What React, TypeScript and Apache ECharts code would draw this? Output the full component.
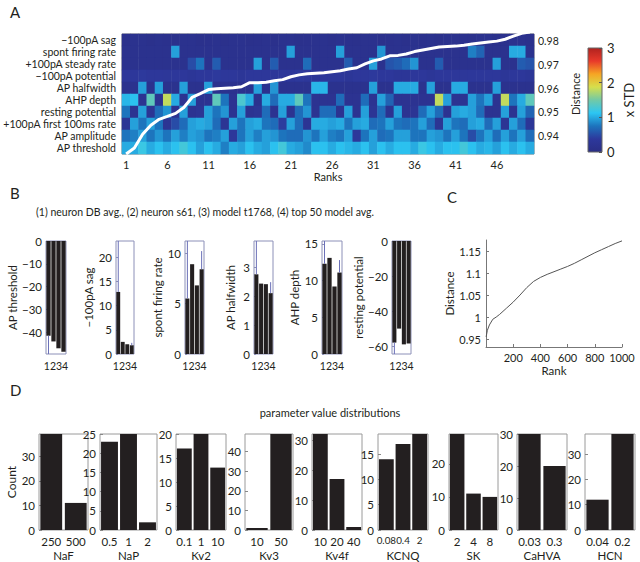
import React, { useEffect, useRef } from 'react';
import * as echarts from 'echarts';

const FONT = 'Lato, "Open Sans", sans-serif';
const TXT = '#231f20';
const BAR = '#231f20';
const ERR = '#6b70b8';

// ---------------- Panel A ----------------
const featureLabels = [
  '−100pA sag', 'spont firing rate', '+100pA steady rate', '−100pA potential', 'AP halfwidth',
  'AHP depth', 'resting potential', '+100pA first 100ms rate', 'AP amplitude', 'AP threshold',
];
const rankLabels = Array.from({ length: 50 }, (_, i) => String(i + 1));

const rowSag = [.12,.15,.14,.12,.15,.13,.12,.15,.14,.12, .13,.15,.12,.14,.15,.12,.13,.15,.12,.14, .15,.12,.13,.15,.14,.12,.15,.13,.12,.14, .15,.12,.13,.15,.12,.14,.13,.15,.12,.14, .15,.13,.12,.14,.15,.12,.13,.15,.14,.12];
const rowSpont = [.15,.15,.15,.15,.15,.15,.95,.15,.15,.15, .15,.15,.15,.15,.15,.15,.15,.15,.15,.15, .95,.15,.15,.15,.15,.15,.95,.15,.15,.15, .15,.9,.15,.15,.15,.15,.15,.15,.15,.15, .15,.15,.8,.65,.15,.15,.15,1.0,1.0,.15];
const rowSteady = [.15,.15,.15,.15,.15,.15,.15,.15,.5,.75, .15,.6,.15,.15,.15,.15,.95,.15,.6,.15, .15,.15,.7,.15,.15,.15,.15,.6,.15,.15, .95,.15,.55,.6,.7,.9,.15,.15,.6,.15, .15,.15,.15,.15,.15,.95,.15,.15,.6,.55];
const rowPotential = [.35,.35,.38,.35,.35,.32,.35,.35,.3,.35, .35,.38,.35,.35,.3,.35,.35,.35,.32,.35, .35,.38,.35,.3,.35,.35,.35,.3,.35,.35, .38,.35,.35,.3,.3,.35,.35,.3,.35,.35, .35,.32,.35,.35,.35,.35,.3,.35,.35,.3];
const rowHalfwidth = [.15,.15,.95,.15,.95,.15,.15,.95,.15,.15, .95,.15,.15,.15,.15,.15,.95,.15,.9,.15, .15,.15,.15,1.05,1.05,.15,.15,.15,.15,.15, .95,.15,.15,1.0,1.0,1.0,.15,.95,.15,.15, 1.0,1.0,.15,.15,.15,.95,.15,.15,.15,.15];
const rowAhp = [1.05,1.1,.2,1.4,.2,1.8,1.0,.2,.95,.2, .2,1.4,.75,.2,1.3,1.0,.15,1.0,.7,1.0, 1.0,1.4,.75,.2,.2,.2,.7,.2,.2,.7, .2,.95,.65,.2,.2,.2,.2,.2,1.8,.95, .2,.2,.95,.75,.95,.2,1.8,.75,1.0,1.4];
const rowResting = [.75,.2,.95,.25,.7,.9,.2,.95,.2,.25, .95,.75,.9,.2,.95,.2,.25,.7,.2,.95, .2,.7,.9,.2,.7,.7,.2,.95,.2,.95, .25,.7,.2,.95,.2,.25,.7,.95,.7,.2, .95,1.0,.95,.7,.2,.2,.95,.2,.95,.65];
const rowFirst = [.25,.95,.75,.95,.75,.25,.5,.7,.95,1.0, .95,.7,.25,.95,.75,.95,1.0,.75,.7,.4, .95,.7,.25,1.0,1.0,.95,1.0,.75,.95,1.0, .7,.75,.95,.75,.7,.75,.95,.7,.25,.95, .75,.7,.95,1.0,.7,.95,.25,.95,.7,.3];
const rowAmplitude = [.75,.8,.95,.75,.9,.75,.95,.8,.95,.9, .75,.8,.95,.35,.75,.95,.8,.95,.9,.75, .7,.7,.9,.75,.95,.8,.75,.95,.35,.75, .95,.7,.75,.95,.95,.75,.75,.95,.9,.75, .95,.75,.5,.75,.95,.7,.95,.75,.95,.7];
const rowThreshold = [1.0,1.0,1.2,1.0,1.1,1.0,1.1,1.25,1.1,.95, 1.1,1.0,.8,1.0,.95,1.1,1.0,.95,1.1,1.25, 1.0,.95,.85,1.1,1.1,1.0,1.1,1.05,1.0,1.1, .95,1.1,1.0,1.1,1.1,1.0,1.2,1.1,1.0,1.1, 1.1,1.25,1.1,1.0,1.05,.95,1.1,1.0,1.1,1.0];
const heatRows = [rowSag, rowSpont, rowSteady, rowPotential, rowHalfwidth, rowAhp, rowResting, rowFirst, rowAmplitude, rowThreshold];

const topDistance = [0.9325,0.935,0.9408,0.9446,0.9471,0.9483,0.9496,0.9521,0.9563,0.9579, 0.9596,0.96,0.9602,0.9604,0.9608,0.9625,0.9625,0.9627,0.9633,0.9638, 0.965,0.9658,0.9663,0.9665,0.9667,0.9671,0.9675,0.9683,0.9688,0.9704, 0.9717,0.9725,0.9738,0.974,0.9746,0.9756,0.9763,0.9769,0.9775,0.9777, 0.9779,0.9783,0.9788,0.9792,0.9796,0.98,0.9808,0.9821,0.9833,0.9838];
const distanceTicks = [0.94, 0.95, 0.96, 0.97, 0.98];
const colorbarTicks = [0, 1, 2, 3];
const jetColors = ['#2a2e85', '#2d389c', '#1d74bd', '#2cc6f3', '#72c9a6', '#d6df4c', '#f6a524', '#e8392a', '#b0221f'];

// ---------------- Panel B ----------------
const bCategories = ['1', '2', '3', '4'];
const bNames = ['AP threshold', '−100pA sag', 'spont firing rate', 'AP halfwidth', 'AHP depth', 'resting potential'];
const bThreshold = [-41.5, -44, -47, -48.5];
const bSag = [12.8, 2.5, 2.0, 1.8];
const bSpont = [5.5, 8.9, 6.8, 8.4];
const bHalfwidth = [2.75, 2.43, 2.41, 2.1];
const bAhp = [12.3, 13.1, 9.2, 11.1];
const bResting = [-58, -50, -59, -58.5];
const bThresholdErr = [9, 0, 0, 0];
const bSagErr = [12, 0, 0, 0.5];
const bSpontErr = [6, 0, 0, 1.8];
const bHalfwidthErr = [1.5, 0, 0, 0.38];
const bAhpErr = [4, 0, 0, 1.7];
const bRestingErr = [8, 0, 0, 0];
const bThresholdTicks = [0, -10, -20, -30, -40];
const bSagTicks = [0, 5, 10, 15, 20];
const bSpontTicks = [0, 5, 10];
const bHalfwidthTicks = [0, 1, 2, 3];
const bAhpTicks = [0, 5, 10, 15];
const bRestingTicks = [0, -20, -40, -60];
const bValues = [bThreshold, bSag, bSpont, bHalfwidth, bAhp, bResting];
const bErrs = [bThresholdErr, bSagErr, bSpontErr, bHalfwidthErr, bAhpErr, bRestingErr];
const bTicks = [bThresholdTicks, bSagTicks, bSpontTicks, bHalfwidthTicks, bAhpTicks, bRestingTicks];
const bRanges = [[-49.5, 0], [0, 23.3], [0, 11.2], [0, 3.9], [0, 15.4], [-64.5, 0]];

// ---------------- Panel C ----------------
const cRanks = [1, 10, 25, 50, 75, 100, 150, 200, 250, 300, 350, 400, 450, 500, 550, 600, 650, 700, 750, 800, 850, 900, 950, 1000];
const cDistance = [0.955, 0.970, 0.982, 0.995, 1.000, 1.006, 1.020, 1.034, 1.050, 1.067, 1.081, 1.090, 1.097, 1.103, 1.109, 1.115, 1.122, 1.130, 1.138, 1.146, 1.153, 1.160, 1.167, 1.173];
const cRankTicks = [200, 400, 600, 800, 1000];
const cDistanceTicks = [0.95, 1, 1.05, 1.1, 1.15];

// ---------------- Panel D ----------------
const dNames = ['NaF', 'NaP', 'Kv2', 'Kv3', 'Kv4f', 'KCNQ', 'SK', 'CaHVA', 'HCN'];
const dLevels = [['250', '500'], ['0.5', '1', '2'], ['0.1', '1', '10'], ['10', '50'], ['10', '20', '40'], ['0.08', '0.4', '2'], ['2', '4', '8'], ['0.03', '0.3'], ['0.04', '0.2']];
const dCounts = [[39, 11], [23, 25, 2], [17, 20, 13], [1, 49], [32, 17, 1], [14, 17, 19], [29, 11, 10], [30, 20], [12, 38]];
const dTicks = [[0, 10, 20, 30], [0, 5, 10, 15, 20, 25], [0, 5, 10, 15, 20], [0, 10, 20, 30, 40], [0, 10, 20, 30], [0, 5, 10, 15], [0, 10, 20], [0, 10, 20, 30], [0, 10, 20, 30]];

// ---------------- layout (pixels) ----------------
const bLayout = [
  { left: 46, width: 20, gap: 27 }, { left: 116, width: 18, gap: 21 }, { left: 185, width: 19, gap: 19 },
  { left: 254, width: 19, gap: 18 }, { left: 322, width: 20, gap: 21 }, { left: 392, width: 19, gap: 19 },
];
const dLayout = [
  { left: 39, width: 49, label: 11.5 }, { left: 100, width: 57, label: 11.5 }, { left: 176, width: 50, label: 11.5 },
  { left: 245, width: 48, label: 11.5 }, { left: 312, width: 50, label: 11.5 }, { left: 378, width: 50, label: 9.8 },
  { left: 449, width: 49, label: 11.5 }, { left: 517, width: 50, label: 11.5 }, { left: 585, width: 50, label: 11.5 },
];

const minus = (v: number) => String(parseFloat(v.toFixed(3))).replace('-', '\u2212');

function buildOption() {
  const grid: any[] = [];
  const xAxis: any[] = [];
  const yAxis: any[] = [];
  const series: any[] = [];
  const lab = (size = 11) => ({ color: TXT, fontFamily: FONT, fontSize: size });

  // ---- A heatmap (grid 0)
  grid.push({ left: 116, top: 34, width: 418, height: 120, show: true, borderColor: '#7a7a7a', borderWidth: 1, backgroundColor: 'transparent' });
  xAxis.push({
    type: 'category', gridIndex: 0, data: rankLabels,
    axisLine: { show: false }, axisTick: { show: false }, splitLine: { show: false },
    axisLabel: { ...lab(11), margin: 5, interval: (i: number) => i % 5 === 0 },
    name: 'Ranks', nameLocation: 'middle', nameGap: 15, nameTextStyle: lab(11),
  });
  yAxis.push({
    type: 'category', gridIndex: 0, data: featureLabels, inverse: true,
    axisLine: { show: false }, axisTick: { show: false }, splitLine: { show: false },
    axisLabel: { ...lab(10.5), margin: 6, interval: 0 },
  });
  yAxis.push({
    type: 'value', gridIndex: 0, position: 'right', min: 0.9325, max: 0.983,
    axisLine: { show: false }, splitLine: { show: false },
    axisTick: { show: true, inside: true, length: 3, customValues: distanceTicks, lineStyle: { color: '#666' } },
    axisLabel: { ...lab(10.5), margin: 4, customValues: distanceTicks, formatter: (v: number) => v.toFixed(2) },
    name: 'Distance', nameLocation: 'middle', nameGap: 31, nameRotate: 90, nameTextStyle: lab(11),
  });
  const heatData: any[] = [];
  heatRows.forEach((row, r) => row.forEach((v, c) => heatData.push([c, r, v])));
  series.push({ type: 'heatmap', xAxisIndex: 0, yAxisIndex: 0, data: heatData, emphasis: { disabled: true }, silent: true });
  series.push({
    type: 'line', xAxisIndex: 0, yAxisIndex: 1, data: topDistance, symbol: 'none', z: 5,
    lineStyle: { color: '#ffffff', width: 3 }, silent: true,
  });

  // ---- colorbar axis (grid 1)
  {
    const gi = grid.length;
    grid.push({ left: 588, top: 48, width: 14, height: 104, show: true, borderColor: '#666', borderWidth: 1, backgroundColor: 'transparent' });
    xAxis.push({ type: 'category', gridIndex: gi, data: [''], show: false });
    yAxis.push({
      type: 'value', gridIndex: gi, position: 'right', min: 0, max: 3,
      axisLine: { show: false }, splitLine: { show: false },
      axisTick: { show: true, inside: true, length: 3, customValues: colorbarTicks, lineStyle: { color: '#555' } },
      axisLabel: { ...lab(13), margin: 5, customValues: colorbarTicks },
      name: 'x STD', nameLocation: 'middle', nameGap: 20, nameRotate: 90, nameTextStyle: lab(13),
    });
  }

  // ---- B panels
  bValues.forEach((vals, k) => {
    const gi = grid.length, xi = xAxis.length, yi = yAxis.length;
    const L = bLayout[k];
    grid.push({ left: L.left, top: 241, width: L.width, height: 113, show: true, borderColor: '#8c90b8', borderWidth: 1, backgroundColor: 'transparent' });
    xAxis.push({
      type: 'category', gridIndex: gi, data: bCategories,
      axisLine: { show: false }, axisTick: { show: false }, axisLabel: { show: false }, splitLine: { show: false },
      name: bCategories.join(''), nameLocation: 'middle', nameGap: 6, nameTextStyle: lab(10.5),
    });
    yAxis.push({
      type: 'value', gridIndex: gi, min: bRanges[k][0], max: bRanges[k][1],
      axisLine: { show: false }, splitLine: { show: false },
      axisTick: { show: true, inside: true, length: 2, customValues: bTicks[k], lineStyle: { color: '#8c90b8' } },
      axisLabel: { ...lab(11.5), margin: 4, customValues: bTicks[k], formatter: (v: number) => minus(v) },
      name: bNames[k], nameLocation: 'middle', nameGap: L.gap, nameRotate: 90, nameTextStyle: lab(11.5),
    });
    series.push({
      type: 'bar', xAxisIndex: xi, yAxisIndex: yi, data: vals, barCategoryGap: '14%',
      itemStyle: { color: BAR }, silent: true,
    });
    const errData: any[] = [];
    vals.forEach((v, i) => {
      const e = bErrs[k][i];
      if (e > 0) errData.push([i, v, v + Math.sign(v) * e]);
    });
    series.push({
      type: 'custom', xAxisIndex: xi, yAxisIndex: yi, data: errData, silent: true, z: 4,
      encode: { x: 0, y: [1, 2] },
      renderItem: (params: any, api: any) => {
        const p0 = api.coord([api.value(0), api.value(1)]);
        const p1 = api.coord([api.value(0), api.value(2)]);
        const cs = params.coordSys;
        const cl = (y: number) => Math.max(cs.y, Math.min(cs.y + cs.height, y));
        return { type: 'line', shape: { x1: p0[0], y1: cl(p0[1]), x2: p1[0], y2: cl(p1[1]) }, style: { stroke: ERR, lineWidth: 1 } };
      },
    });
  });

  // ---- C
  {
    const gi = grid.length, xi = xAxis.length, yi = yAxis.length;
    grid.push({ left: 486, top: 240, width: 136, height: 107 });
    xAxis.push({
      type: 'value', gridIndex: gi, min: 0, max: 1000,
      axisLine: { show: true, lineStyle: { color: '#777' } }, splitLine: { show: false },
      axisTick: { show: true, inside: true, length: 3, customValues: cRankTicks, lineStyle: { color: '#777' } },
      axisLabel: { ...lab(11), margin: 5, customValues: cRankTicks, formatter: (v: number) => String(v) },
      name: 'Rank', nameLocation: 'middle', nameGap: 17, nameTextStyle: lab(11.5),
    });
    yAxis.push({
      type: 'value', gridIndex: gi, min: 0.932, max: 1.175,
      axisLine: { show: true, lineStyle: { color: '#777' } }, splitLine: { show: false },
      axisTick: { show: true, inside: true, length: 3, customValues: cDistanceTicks, lineStyle: { color: '#777' } },
      axisLabel: { ...lab(11), margin: 5, customValues: cDistanceTicks, formatter: (v: number) => String(parseFloat(v.toFixed(2))) },
      name: 'Distance', nameLocation: 'middle', nameGap: 28, nameRotate: 90, nameTextStyle: lab(11.5),
    });
    series.push({
      type: 'line', xAxisIndex: xi, yAxisIndex: yi, data: cRanks.map((r, i) => [r, cDistance[i]]),
      symbol: 'none', lineStyle: { color: '#555', width: 1 }, silent: true,
    });
  }

  // ---- D panels
  dCounts.forEach((counts, k) => {
    const gi = grid.length, xi = xAxis.length, yi = yAxis.length;
    const L = dLayout[k];
    const ymax = Math.max(...counts);
    grid.push({ left: L.left, top: 434, width: L.width, height: 96, show: true, borderColor: '#9a9a9a', borderWidth: 1, backgroundColor: 'transparent' });
    xAxis.push({
      type: 'category', gridIndex: gi, data: dLevels[k],
      axisLine: { show: false }, axisTick: { show: false }, splitLine: { show: false },
      axisLabel: { ...lab(L.label), margin: 5, interval: 0 },
      name: dNames[k], nameLocation: 'middle', nameGap: 19, nameTextStyle: lab(11.5),
    });
    yAxis.push({
      type: 'value', gridIndex: gi, min: 0, max: ymax,
      axisLine: { show: false }, splitLine: { show: false },
      axisTick: { show: true, inside: true, length: 3, customValues: dTicks[k], lineStyle: { color: '#888' } },
      axisLabel: { ...lab(11.5), margin: 4, customValues: dTicks[k] },
      name: k === 0 ? 'Count' : '', nameLocation: 'middle', nameGap: 20, nameRotate: 90, nameTextStyle: lab(12),
    });
    series.push({
      type: 'bar', xAxisIndex: xi, yAxisIndex: yi, data: counts, barCategoryGap: '11%',
      itemStyle: { color: BAR }, silent: true,
    });
  });

  const txt = (text: string, x: number, y: number, size: number, align = 'left') => ({
    type: 'text', x, y, silent: true,
    style: { text, fill: TXT, font: `${size}px ${FONT}`, textAlign: align, textVerticalAlign: 'middle', align, verticalAlign: 'middle' },
  });

  const graphic = [
    {
      type: 'rect', shape: { x: 588, y: 48, width: 14, height: 104 }, silent: true, z: -1,
      style: {
        fill: {
          type: 'linear', x: 0, y: 1, x2: 0, y2: 0,
          colorStops: jetColors.map((c, i) => ({ offset: i / (jetColors.length - 1), color: c })),
        },
      },
    },
    txt('A', 10, 12, 15),
    txt('B', 10, 193, 15),
    txt('C', 447, 197, 15),
    txt('D', 10, 390, 15),
    txt('(1) neuron DB avg., (2) neuron s61, (3) model t1768, (4) top 50 model avg.', 205, 212, 10.5, 'center'),
    txt('parameter value distributions', 330, 412, 11, 'center'),
  ];

  return {
    animation: false,
    backgroundColor: '#ffffff',
    textStyle: { fontFamily: FONT },
    grid, xAxis, yAxis, series, graphic,
    visualMap: {
      type: 'continuous', min: 0, max: 3, show: false, seriesIndex: 0, dimension: 2,
      inRange: { color: jetColors },
    },
  };
}

export default function App() {
  const ref = useRef<HTMLDivElement>(null);
  useEffect(() => {
    if (!ref.current) return;
    const chart = echarts.init(ref.current, null, { renderer: 'svg' });
    chart.setOption(buildOption() as any);
    return () => chart.dispose();
  }, []);
  return <div ref={ref} style={{ position: 'fixed', left: 0, top: 0, width: 640, height: 562, background: '#fff' }} />;
}
